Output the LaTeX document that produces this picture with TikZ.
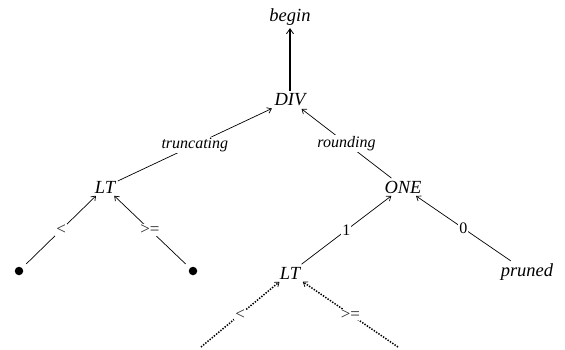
\documentclass[tikz,border=0pt]{standalone}
\usepackage{fontspec}
\setmainfont{Liberation Serif}
\usetikzlibrary{arrows.meta}
\begin{document}
\begin{tikzpicture}[x=1pt,y=-1pt,
  vertex/.style={font=\fontsize{18.5}{22}\selectfont\itshape, inner sep=2.5pt},
  leaf/.style={circle, fill=black, inner sep=0pt, minimum size=8.5pt, outer sep=6pt},
  link/.style={draw, line width=0.7pt, -{Straight Barb[length=4pt,width=6pt]}},
  trunk/.style={draw, line width=1.6pt, -{Straight Barb[length=5pt,width=7pt,line width=0.8pt]}},
  faint/.style={draw, line width=1.5pt, dash pattern=on 1.4pt off 1.4pt, -{Straight Barb[length=4pt,width=6pt,line width=0.7pt]}},
  tag/.style={midway, fill=white, inner sep=1pt, font=\fontsize{16}{18}\selectfont\itshape},
  sym/.style={tag, font=\fontsize{17}{19}\selectfont, text=black!85}
]
\useasboundingbox (0,0) rectangle (565,350);

% nodes
\node[vertex] (begin) at (290,17) {begin};
\node[vertex] (div) at (290,100) {DIV};
\node[vertex] (lta) at (105,187) {LT};
\node[vertex] (one) at (403,187) {ONE};
\node[leaf] (dotl) at (19,271) {};
\node[leaf] (dotr) at (193,271) {};
\node[vertex] (ltb) at (290,273) {LT};
\node[vertex] (pruned) at (527,272) {pruned};
\coordinate (endl) at (201,347);
\coordinate (endr) at (398,347);

% connectors, each pointing at the parent
\draw[trunk] (div) -- (begin);
\draw[link] (lta) -- node[tag] {truncating} (div);
\draw[link] (one) -- node[tag] {rounding} (div);
\draw[link] (dotl) -- node[sym] {<} (lta);
\draw[link] (dotr) -- node[sym] {>=} (lta);
\draw[link] (ltb) -- node[tag, font=\fontsize{16}{18}\selectfont] {1} (one);
\draw[link] (pruned) -- node[tag, font=\fontsize{16}{18}\selectfont] {0} (one);
\draw[faint] (endl) -- node[sym] {<} (ltb);
\draw[faint] (endr) -- node[sym] {>=} (ltb);
\end{tikzpicture}
\end{document}
